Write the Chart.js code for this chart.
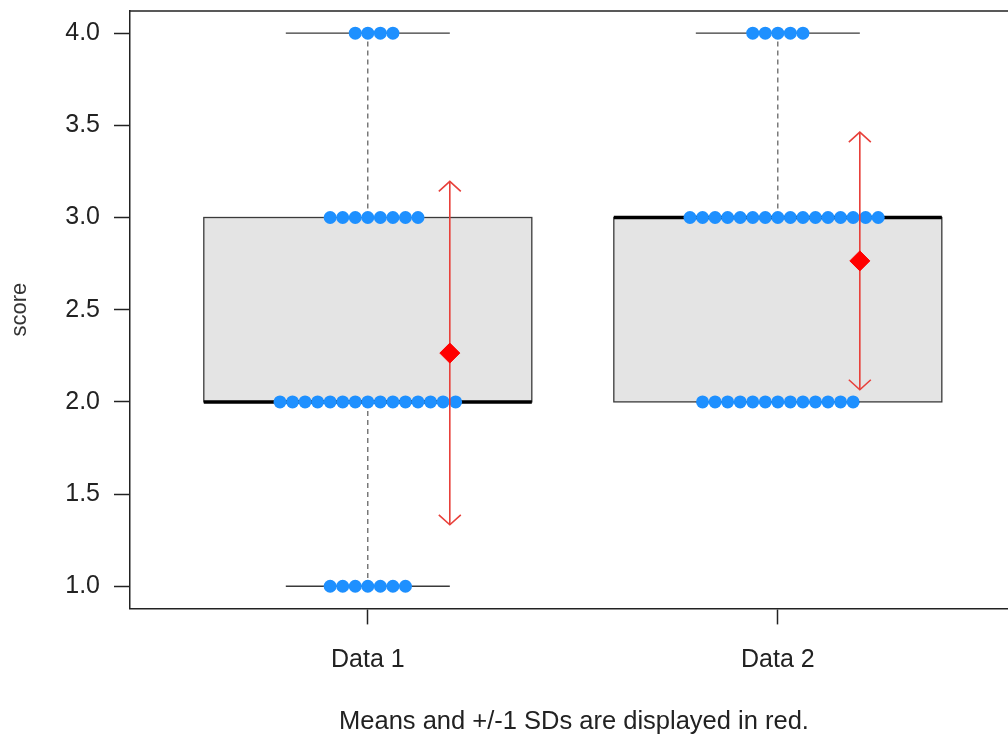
<!DOCTYPE html>
<html>
<head>
<meta charset="utf-8">
<script src="https://cdn.jsdelivr.net/npm/chart.js@4.4.1/dist/chart.umd.min.js"></script>
<style>
  html, body { margin: 0; padding: 0; background: #fff; overflow: hidden; }
  #wrap { width: 1008px; height: 742px; overflow: hidden; position: relative; background: #fff; }
  canvas { display: block; }
</style>
</head>
<body>
<div id="wrap"><canvas id="chart" width="1148" height="742"></canvas></div>
<script>
// Scores per group, stored as counts at each score level
const categories = ['Data 1', 'Data 2'];
const scoreLevels = [1, 2, 3, 4];
const data1Counts = [7, 15, 8, 4];
const data2Counts = [0, 13, 16, 5];
const yTickValues = [1.0, 1.5, 2.0, 2.5, 3.0, 3.5, 4.0];
const yAxisTitle = 'score';
const noteText = 'Means and +/-1 SDs are displayed in red.';

const groupCounts = [data1Counts, data2Counts];

// Geometry in axis units
const BOX_HALF = 0.4;
const STAPLE_HALF = 0.2;
const MEAN_SHIFT = 0.2;
const DOT_STEP = 0.0306;
const X_MIN = 0.42, X_MAX = 2.876;
const Y_MIN = 0.88, Y_MAX = 4.12;

const FONT = '"Liberation Sans", Arial, Helvetica, sans-serif';
const INK = '#222';

function expand(counts) {
  const v = [];
  counts.forEach((n, i) => { for (let j = 0; j < n; j++) v.push(scoreLevels[i]); });
  return v;
}

// Tukey five-number summary (same hinges as R's boxplot)
function fivenum(values) {
  const s = [...values].sort((a, b) => a - b);
  const n = s.length;
  const n4 = Math.floor((n + 3) / 2) / 2;
  const d = [1, n4, (n + 1) / 2, n + 1 - n4, n];
  return d.map(p => 0.5 * (s[Math.floor(p) - 1] + s[Math.ceil(p) - 1]));
}

function boxStats(values) {
  const [mn, q1, med, q3, mx] = fivenum(values);
  const iqr = q3 - q1;
  const hi = Math.max(...values.filter(v => v <= q3 + 1.5 * iqr));
  const lo = Math.min(...values.filter(v => v >= q1 - 1.5 * iqr));
  const mean = values.reduce((a, b) => a + b, 0) / values.length;
  const sd = Math.sqrt(values.reduce((a, b) => a + (b - mean) * (b - mean), 0) / (values.length - 1));
  return { q1, med, q3, lo, hi, mean, sd };
}

const groupValues = groupCounts.map(expand);
const stats = groupValues.map(boxStats);

// Swarm layout: first dot centred, then alternate right/left
function swarm(counts, cat) {
  const pts = [];
  counts.forEach((n, i) => {
    for (let j = 0; j < n; j++) {
      const k = j === 0 ? 0 : (j % 2 === 1 ? (j + 1) / 2 : -j / 2);
      pts.push({ x: cat + k * DOT_STEP, y: scoreLevels[i] });
    }
  });
  return pts;
}

const dotData = groupCounts.flatMap((c, i) => swarm(c, i + 1));
const meanData = stats.map((s, i) => ({ x: i + 1 + MEAN_SHIFT, y: s.mean }));
const sdData = [];
stats.forEach((s, i) => {
  if (i > 0) sdData.push({ x: i + 0.5 + MEAN_SHIFT, y: null });
  sdData.push({ x: i + 1 + MEAN_SHIFT, y: s.mean - s.sd });
  sdData.push({ x: i + 1 + MEAN_SHIFT, y: s.mean + s.sd });
});

const boxPlugin = {
  id: 'boxes',
  beforeDatasetsDraw(chart) {
    const { ctx, scales: { x, y } } = chart;
    ctx.save();
    stats.forEach((s, i) => {
      const cat = i + 1;
      const xl = x.getPixelForValue(cat - BOX_HALF);
      const xr = x.getPixelForValue(cat + BOX_HALF);
      const xc = x.getPixelForValue(cat);
      const yt = y.getPixelForValue(s.q3);
      const yb = y.getPixelForValue(s.q1);
      ctx.fillStyle = '#e4e4e4';
      ctx.fillRect(xl, yt, xr - xl, yb - yt);
      ctx.strokeStyle = '#3a3a3a';
      ctx.lineWidth = 1.3;
      ctx.strokeRect(xl, yt, xr - xl, yb - yt);

      // whiskers
      ctx.strokeStyle = '#4a4a4a';
      ctx.lineWidth = 1.1;
      ctx.setLineDash([5, 4]);
      ctx.beginPath();
      ctx.moveTo(xc, yt); ctx.lineTo(xc, y.getPixelForValue(s.hi));
      ctx.moveTo(xc, yb); ctx.lineTo(xc, y.getPixelForValue(s.lo));
      ctx.stroke();
      ctx.setLineDash([]);

      // staples
      const sl = x.getPixelForValue(cat - STAPLE_HALF);
      const sr = x.getPixelForValue(cat + STAPLE_HALF);
      ctx.strokeStyle = '#3a3a3a';
      ctx.lineWidth = 1.3;
      ctx.beginPath();
      ctx.moveTo(sl, y.getPixelForValue(s.hi)); ctx.lineTo(sr, y.getPixelForValue(s.hi));
      ctx.moveTo(sl, y.getPixelForValue(s.lo)); ctx.lineTo(sr, y.getPixelForValue(s.lo));
      ctx.stroke();

      // median
      ctx.strokeStyle = '#000';
      ctx.lineWidth = 3.5;
      ctx.beginPath();
      const ym = y.getPixelForValue(s.med);
      ctx.moveTo(xl, ym); ctx.lineTo(xr, ym);
      ctx.stroke();
    });
    ctx.restore();
  },
  afterDatasetDraw(chart, args) {
    if (args.meta.label !== 'sd') return;
    const { ctx, scales: { x, y } } = chart;
    const hw = 11, hl = 10;
    ctx.save();
    ctx.strokeStyle = '#e8403a';
    ctx.lineWidth = 1.6;
    stats.forEach((s, i) => {
      const xc = x.getPixelForValue(i + 1 + MEAN_SHIFT);
      const yTop = y.getPixelForValue(s.mean + s.sd);
      const yBot = y.getPixelForValue(s.mean - s.sd);
      ctx.beginPath();
      ctx.moveTo(xc - hw, yTop + hl); ctx.lineTo(xc, yTop); ctx.lineTo(xc + hw, yTop + hl);
      ctx.moveTo(xc - hw, yBot - hl); ctx.lineTo(xc, yBot); ctx.lineTo(xc + hw, yBot - hl);
      ctx.stroke();
    });
    ctx.restore();
  },
  afterDatasetsDraw(chart) {
    const { ctx, chartArea } = chart;
    ctx.save();
    ctx.strokeStyle = INK;
    ctx.lineWidth = 1.5;
    ctx.beginPath();
    ctx.moveTo(chartArea.left, chartArea.top);
    ctx.lineTo(chart.width, chartArea.top);
    ctx.stroke();
    ctx.restore();
  }
};

new Chart(document.getElementById('chart'), {
  type: 'scatter',
  data: {
    datasets: [
      {
        label: 'mean',
        data: meanData,
        pointStyle: 'rectRot',
        pointRadius: 10,
        backgroundColor: '#ff0000',
        borderColor: '#ff0000',
        borderWidth: 1,
        order: 0
      },
      {
        label: 'sd',
        type: 'line',
        data: sdData,
        borderColor: '#e8403a',
        borderWidth: 1.6,
        pointRadius: 0,
        spanGaps: false,
        fill: false,
        order: 1
      },
      {
        label: 'scores',
        data: dotData,
        pointRadius: 6.5,
        backgroundColor: '#1e90ff',
        borderColor: '#1e90ff',
        borderWidth: 0,
        order: 2
      }
    ]
  },
  options: {
    responsive: false,
    animation: false,
    events: [],
    layout: { padding: { top: 9, left: 0, right: 0, bottom: 0 } },
    plugins: {
      legend: { display: false },
      tooltip: { enabled: false },
      title: {
        display: true,
        text: noteText,
        position: 'bottom',
        color: INK,
        font: { family: FONT, size: 25.5, weight: 'normal' },
        padding: { top: 0, bottom: 5 }
      }
    },
    scales: {
      x: {
        type: 'linear',
        min: X_MIN,
        max: X_MAX,
        afterBuildTicks: s => { s.ticks = categories.map((c, i) => ({ value: i + 1 })); },
        ticks: {
          callback: v => categories[Math.round(v) - 1],
          font: { family: FONT, size: 25 },
          color: INK,
          padding: 21,
          autoSkip: false,
          maxRotation: 0
        },
        grid: { drawOnChartArea: false, tickLength: 16, color: INK, tickWidth: 1.5 },
        border: { color: INK, width: 1.5 },
        afterFit: s => { s.height = 98; s.paddingLeft = 0; s.paddingRight = 0; }
      },
      y: {
        type: 'linear',
        min: Y_MIN,
        max: Y_MAX,
        afterBuildTicks: s => { s.ticks = yTickValues.map(v => ({ value: v })); },
        ticks: {
          callback: v => Number(v).toFixed(1),
          font: { family: FONT, size: 25 },
          color: INK,
          padding: 14
        },
        grid: { drawOnChartArea: false, tickLength: 16, color: INK, tickWidth: 1.5 },
        border: { color: INK, width: 1.5 },
        title: {
          display: true,
          text: yAxisTitle,
          color: '#333',
          font: { family: FONT, size: 22 },
          padding: { top: 7, bottom: 0 }
        },
        afterFit: s => { s.width = 130; s.paddingTop = 0; s.paddingBottom = 0; }
      }
    }
  },
  plugins: [boxPlugin]
});
</script>
</body>
</html>
